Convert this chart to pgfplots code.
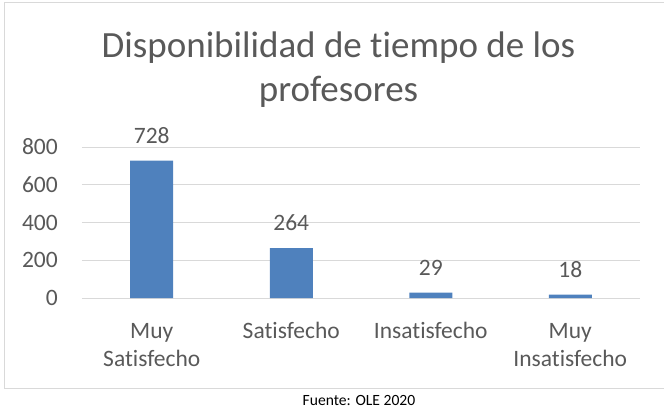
\documentclass[border=0pt]{standalone}
\usepackage{pgfplots}
\pgfplotsset{compat=1.18}
\usepackage{fontspec}
\setmainfont{Carlito}[Ligatures=NoCommon]
\definecolor{barblue}{HTML}{4F81BD}
\definecolor{txt}{HTML}{595959}
\definecolor{gridc}{HTML}{D9D9D9}
\begin{document}
\begin{tikzpicture}
\path[use as bounding box] (-82bp,-110bp) rectangle (582bp,298bp);
\draw[gridc, line width=1bp] (-77bp,295bp) rectangle (600bp,-90bp);
\begin{axis}[
  at={(0,0)}, anchor=south west,
  scale only axis, width=558bp, height=151bp,
  xmin=-0.5, xmax=3.5, ymin=0, ymax=800,
  ytick={0,200,400,600,800},
  xtick={0,1,2,3},
  xticklabels={{\strut Muy\\Satisfecho},{\strut Satisfecho},{\strut Insatisfecho},{\strut Muy\\Insatisfecho}},
  /pgf/number format/assume math mode=true,
  axis line style={draw=none},
  major tick length=0pt,
  ymajorgrids, major grid style={gridc, line width=1bp},
  yticklabel style={font=\fontsize{23.5bp}{28.4bp}\selectfont, text=txt, anchor=east, inner sep=0pt, xshift=-24bp},
  xticklabel style={font=\fontsize{23.5bp}{28.4bp}\selectfont, text=txt, align=center, anchor=north, inner sep=0pt, yshift=-20.1bp},
  ybar, bar width=43bp,
  nodes near coords,
  every node near coord/.append style={font=\fontsize{23.5bp}{28.4bp}\selectfont, text=txt, anchor=base, yshift=17.5bp},
  clip=false,
]
\addplot[fill=barblue, draw=none] coordinates {(0,728) (1,264) (2,29) (3,18)};
\end{axis}
\node[text=txt, font=\fontsize{37bp}{44bp}\selectfont, anchor=base] at (256.5bp,240bp) {Disponibilidad de tiempo de los};
\node[text=txt, font=\fontsize{37bp}{44bp}\selectfont, anchor=base] at (256.5bp,196bp) {profesores};
\node[text=black, font=\fontsize{15.6bp}{18bp}\selectfont, anchor=base] at (277bp,-107bp) {Fuente: OLE 2020};
\end{tikzpicture}
\end{document}
